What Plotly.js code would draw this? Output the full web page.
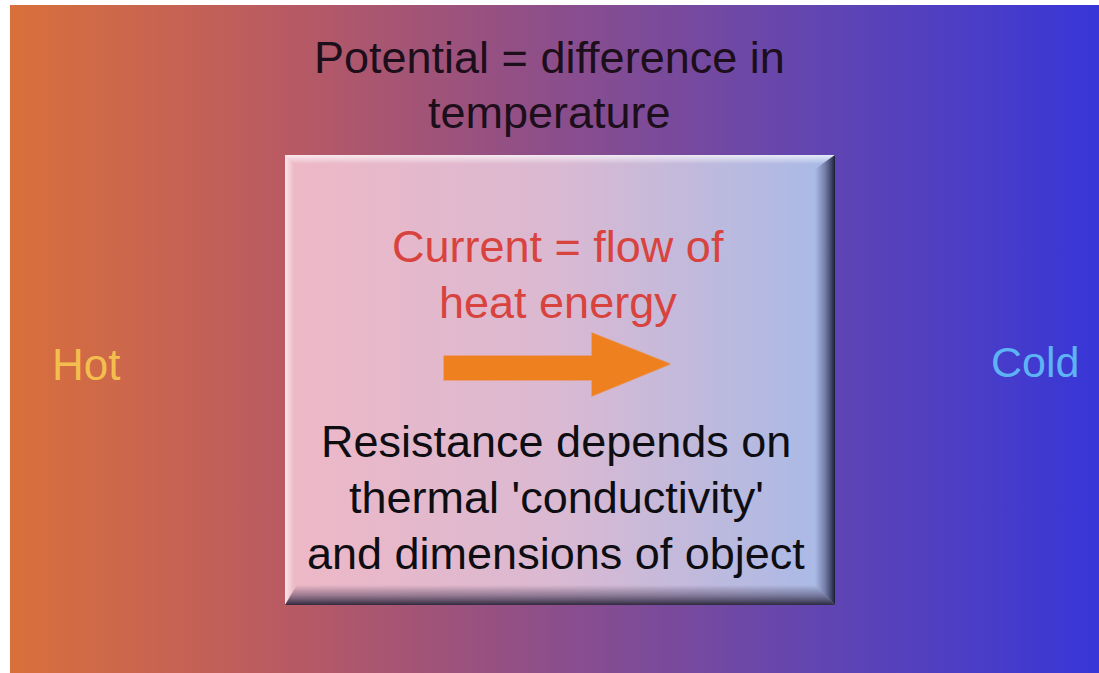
<!DOCTYPE html>
<html>
<head>
<meta charset="utf-8">
<script src="https://cdn.plot.ly/plotly-3.0.1.min.js"></script>
<style>
html,body{margin:0;padding:0;background:#fff;}
#chart{width:1099px;height:673px;}
</style>
</head>
<body>
<div id="chart"></div>
<script>
// Text content of the diagram
var titleLines = ["Potential = difference in", "temperature"];
var currentLines = ["Current = flow of", "heat energy"];
var resistanceLines = ["Resistance depends on", "thermal 'conductivity'", "and dimensions of object"];
var leftLabel = "Hot";
var rightLabel = "Cold";

// Colour stops
var bgColors = ["#D9703B", "#B95A62", "#8C4E8B", "#6045B2", "#3836D8"];
var boxColors = ["#EEB8C6", "#DAB9D2", "#A7BAE7"];

// Geometry in pixel-like data units (axis = 0..1099 x 0..673)
var W = 1099, H = 673;
var bg = {x0: 10, y0: 5, x1: 1099, y1: 673};
var box = {x0: 285, y0: 155, x1: 835, y1: 605};

function scale(cols) {
  return cols.map(function (c, i) { return [i / (cols.length - 1), c]; });
}
function rectPts(r) {
  return [[r.x0, r.y0], [r.x1, r.y0], [r.x1, r.y1], [r.x0, r.y1], [r.x0, r.y0]];
}
function poly(pts, grad) {
  return {
    type: 'scatter', mode: 'lines', fill: 'toself',
    x: pts.map(function (p) { return p[0]; }),
    y: pts.map(function (p) { return p[1]; }),
    line: {width: 0, color: 'rgba(0,0,0,0)'},
    fillgradient: grad, hoverinfo: 'skip', showlegend: false
  };
}

var traces = [];
traces.push(poly(rectPts(bg),
  {type: 'horizontal', colorscale: scale(bgColors), start: bg.x0, stop: bg.x1}));
traces.push(poly(rectPts(box),
  {type: 'horizontal', colorscale: scale(boxColors), start: box.x0, stop: box.x1}));

// Bevel: highlights and shadows
traces.push(poly([[box.x0, box.y0], [box.x1, box.y0], [box.x1 - 14, box.y0 + 9], [box.x0 + 9, box.y0 + 9]],
  {type: 'vertical', colorscale: [[0, 'rgba(255,255,255,0.7)'], [1, 'rgba(255,255,255,0)']], start: box.y0, stop: box.y0 + 9}));
traces.push(poly([[box.x0, box.y0], [box.x0 + 9, box.y0 + 9], [box.x0 + 9, box.y1 - 18], [box.x0, box.y1]],
  {type: 'horizontal', colorscale: [[0, 'rgba(255,255,255,0.65)'], [1, 'rgba(255,255,255,0)']], start: box.x0, stop: box.x0 + 9}));
traces.push(poly([[box.x0, box.y1], [box.x0 + 12, box.y1 - 20], [box.x1 - 20, box.y1 - 20], [box.x1, box.y1]],
  {type: 'vertical', colorscale: [[0, 'rgba(60,45,70,0)'], [0.5, 'rgba(60,50,80,0.45)'], [1, 'rgba(30,25,45,0.9)']], start: box.y1 - 20, stop: box.y1}));
traces.push(poly([[box.x1, box.y0], [box.x1, box.y1], [box.x1 - 20, box.y1 - 20], [box.x1 - 20, box.y0 + 14]],
  {type: 'horizontal', colorscale: [[0, 'rgba(60,60,100,0)'], [0.5, 'rgba(50,50,90,0.45)'], [1, 'rgba(15,15,40,0.92)']], start: box.x1 - 20, stop: box.x1}));

// Arrow
traces.push({
  type: 'scatter', mode: 'lines', fill: 'toself',
  x: [444, 592, 592, 670, 592, 592, 444, 444],
  y: [356, 356, 333, 364, 396, 380, 380, 356],
  line: {width: 1.5, color: 'rgba(240,130,35,0.6)'},
  fillcolor: '#EE8020', hoverinfo: 'skip', showlegend: false
});

var FONT = 'Liberation Sans, Arial, sans-serif';
var annotations = [];
function addLines(lines, ys, xc, size, color) {
  lines.forEach(function (t, i) {
    annotations.push({x: xc, y: ys[i], xref: 'x', yref: 'y', text: t, showarrow: false,
      xanchor: 'center', yanchor: 'middle', font: {family: FONT, size: size, color: color}});
  });
}
addLines(titleLines, [57, 112], 549, 45, '#1C0E1A');
addLines(currentLines, [246, 302], 558, 45, '#D8433E');
addLines(resistanceLines, [441, 497, 553], 556, 45, '#0E0E12');
annotations.push({x: 86, y: 364, xref: 'x', yref: 'y', text: leftLabel, showarrow: false,
  xanchor: 'center', yanchor: 'middle', font: {family: FONT, size: 44, color: '#F4BE4E'}});
annotations.push({x: 1035, y: 362, xref: 'x', yref: 'y', text: rightLabel, showarrow: false,
  xanchor: 'center', yanchor: 'middle', font: {family: FONT, size: 43, color: '#5DB3F4'}});

var layout = {
  width: W, height: H,
  margin: {l: 0, r: 0, t: 0, b: 0, pad: 0},
  paper_bgcolor: '#ffffff', plot_bgcolor: '#ffffff',
  xaxis: {range: [0, W], visible: false, fixedrange: true},
  yaxis: {range: [H, 0], visible: false, fixedrange: true},
  annotations: annotations,
  showlegend: false
};

Plotly.newPlot('chart', traces, layout, {staticPlot: true, displayModeBar: false});
</script>
</body>
</html>
